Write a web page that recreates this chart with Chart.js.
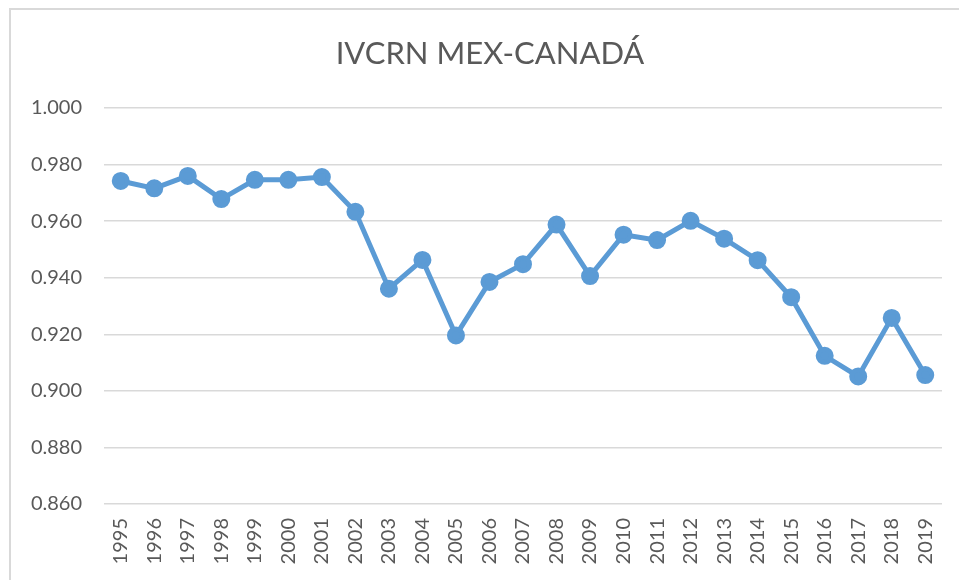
<!DOCTYPE html>
<html>
<head>
<meta charset="utf-8">
<script src="https://cdn.jsdelivr.net/npm/chart.js@4.4.1/dist/chart.umd.min.js"></script>
<style>
  html, body { margin: 0; padding: 0; background: #fff; }
  #marco {
    position: absolute; left: 9px; top: 8px; width: 980px; height: 600px;
    border: 2px solid #d9d9d9; box-sizing: border-box;
  }
  #caja { position: absolute; left: 0; top: 0; width: 959px; height: 580px; }
</style>
</head>
<body>
<div id="marco"></div>
<div id="caja"><canvas id="grafico" width="959" height="580"></canvas></div>
<script>
// IVCRN México - Canadá
const titulo = "IVCRN MEX-CANADÁ";
const anios = ["1995", "1996", "1997", "1998", "1999", "2000", "2001", "2002", "2003", "2004",
  "2005", "2006", "2007", "2008", "2009", "2010", "2011", "2012", "2013", "2014",
  "2015", "2016", "2017", "2018", "2019"];
const ivcrn = [0.9742, 0.9716, 0.9760, 0.9678, 0.9746, 0.9746, 0.9756, 0.9633, 0.9361, 0.9463,
  0.9196, 0.9385, 0.9448, 0.9588, 0.9406, 0.9552, 0.9533, 0.9601, 0.9538, 0.9462,
  0.9331, 0.9124, 0.9051, 0.9258, 0.9056];
const ticksY = [0.86, 0.88, 0.90, 0.92, 0.94, 0.96, 0.98, 1.00];

const azul = "#5B9BD5";
const gris = "#595959";

// El título va centrado sobre todo el marco (como en Excel), no sólo sobre el lienzo
const tituloMarco = {
  id: "tituloMarco",
  afterDraw(chart) {
    const ctx = chart.ctx;
    ctx.save();
    ctx.font = "normal 31px Lato";
    ctx.fillStyle = gris;
    ctx.textAlign = "center";
    ctx.textBaseline = "middle";
    ctx.fillText(titulo, 490, 54);
    ctx.restore();
  }
};

new Chart(document.getElementById("grafico"), {
  type: "line",
  data: {
    labels: anios,
    datasets: [{
      label: titulo,
      data: ivcrn,
      borderColor: azul,
      backgroundColor: azul,
      borderWidth: 5,
      pointRadius: 6.5,
      pointBackgroundColor: azul,
      pointBorderColor: azul,
      tension: 0
    }]
  },
  options: {
    responsive: false,
    animation: false,
    layout: { padding: { left: 0, right: 17, top: 108, bottom: 0 } },
    plugins: {
      legend: { display: false },
      tooltip: { enabled: false },
      title: { display: false }
    },
    scales: {
      x: {
        offset: true,
        grid: { display: false, drawTicks: false },
        border: { display: false },
        ticks: {
          color: gris,
          font: { family: "Lato", size: 20 },
          minRotation: 90,
          maxRotation: 90,
          autoSkip: false,
          padding: 14
        },
        afterFit: (escala) => {
          escala.height = 76;
          escala.paddingLeft = 0;
          escala.paddingRight = 0;
        }
      },
      y: {
        min: 0.86,
        max: 1.0,
        afterBuildTicks: (escala) => { escala.ticks = ticksY.map(v => ({ value: v })); },
        grid: { color: "#d9d9d9", lineWidth: 1.5, drawTicks: false },
        border: { display: false },
        ticks: {
          color: gris,
          font: { family: "Lato", size: 20 },
          padding: 22,
          callback: (v) => v.toFixed(3)
        },
        afterFit: (escala) => { escala.width = 104; }
      }
    }
  },
  plugins: [tituloMarco]
});
</script>
</body>
</html>
